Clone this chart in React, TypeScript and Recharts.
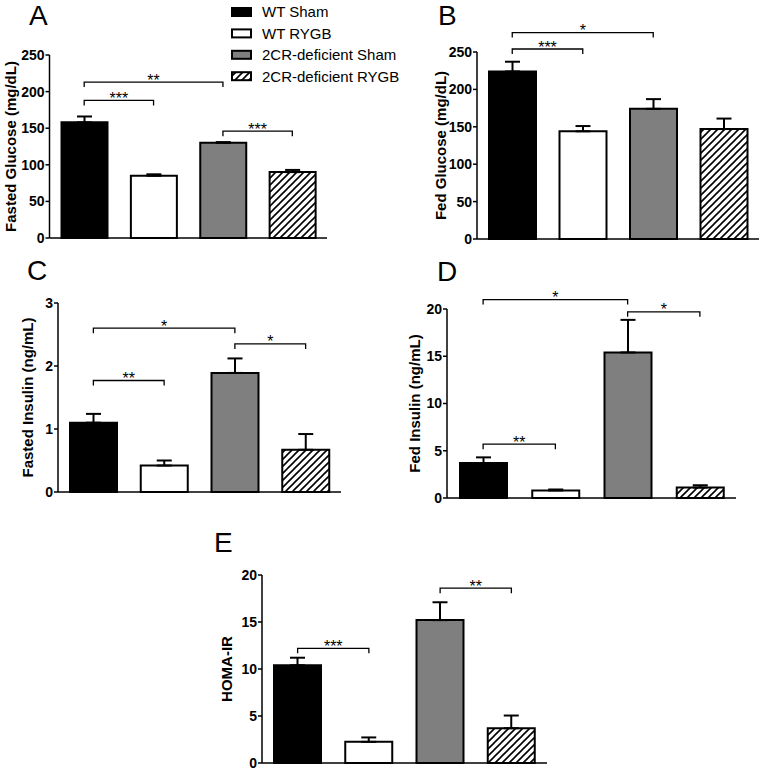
import React from 'react';
import { BarChart, Bar, XAxis, YAxis, ErrorBar, Cell, ReferenceLine } from 'recharts';

const FONT = '"Liberation Sans", Arial, Helvetica, sans-serif';

const groups = ['WT Sham', 'WT RYGB', '2CR-deficient Sham', '2CR-deficient RYGB'];
const groupFills = ['#000000', '#ffffff', '#7f7f7f', 'url(#hatch)'];

const fastedGlucose = [158, 85, 130, 90];
const fastedGlucoseSem = [8, 2, 1, 3];
const fedGlucose = [224, 144, 174, 147];
const fedGlucoseSem = [13, 7, 13, 14];
const fastedInsulin = [1.1, 0.42, 1.89, 0.67];
const fastedInsulinSem = [0.14, 0.08, 0.23, 0.25];
const fedInsulin = [3.7, 0.8, 15.4, 1.1];
const fedInsulinSem = [0.6, 0.1, 3.45, 0.25];
const homaIr = [10.4, 2.25, 15.2, 3.7];
const homaIrSem = [0.8, 0.47, 1.9, 1.35];

const glucoseTicks = [0, 50, 100, 150, 200, 250];
const fastedInsulinTicks = [0, 1, 2, 3];
const fedInsulinTicks = [0, 5, 10, 15, 20];
const homaTicks = [0, 5, 10, 15, 20];

// significance brackets: [from group, to group, height, stars]
type Sig = [number, number, number, string];
const fastedGlucoseSig: Sig[] = [[0, 2, 213, '**'], [0, 1, 188, '***'], [2, 3, 146, '***']];
const fedGlucoseSig: Sig[] = [[0, 1, 254, '***'], [0, 2, 276, '*']];
const fastedInsulinSig: Sig[] = [[0, 2, 2.6, '*'], [0, 1, 1.77, '**'], [2, 3, 2.35, '*']];
const fedInsulinSig: Sig[] = [[0, 2, 21, '*'], [2, 3, 19.7, '*'], [0, 1, 5.7, '**']];
const homaSig: Sig[] = [[0, 1, 12.2, '***'], [2, 3, 18.6, '**']];

const makeRows = (values: number[], sem: number[]) =>
  groups.map((name, i) => ({ name, value: values[i], err: [0, sem[i]] }));

const bracketShape = (text: string) => (p: any) => {
  const { x1, x2, y1 } = p;
  return (
    <g>
      <path d={`M${x1},${y1 + 5}V${y1}H${x2}V${y1 + 5}`} fill="none" stroke="#000" strokeWidth={1.3} />
      <text x={(x1 + x2) / 2} y={y1 + 3.5} textAnchor="middle" fontSize={16} fontFamily={FONT} fill="#000">
        {text}
      </text>
    </g>
  );
};

interface PanelProps {
  box: { left: number; top: number; width: number; height: number };
  plot: { left: number; right: number; top: number; bottom: number };
  labelX: number;
  label: string;
  values: number[];
  sem: number[];
  ticks: number[];
  sig: Sig[];
  barSize: number;
}

const X_AXIS_H = 8;

const Panel: React.FC<PanelProps> = ({ box, plot, labelX, label, values, sem, ticks, sig, barSize }) => {
  const data = makeRows(values, sem);
  const margin = {
    top: plot.top - box.top,
    left: 0,
    right: box.left + box.width - plot.right,
    bottom: box.top + box.height - plot.bottom - X_AXIS_H,
  };
  const axisStyle = { stroke: '#000', strokeWidth: 1.5 };
  return (
    <div style={{ position: 'absolute', left: box.left, top: box.top }}>
      <BarChart width={box.width} height={box.height} data={data} margin={margin}>
        <XAxis
          dataKey="name"
          height={X_AXIS_H}
          tick={false}
          tickSize={5}
          axisLine={axisStyle}
          tickLine={axisStyle}
        />
        <YAxis
          width={plot.left - box.left}
          domain={[0, ticks[ticks.length - 1]]}
          ticks={ticks}
          interval={0}
          tickSize={4}
          tickMargin={1}
          axisLine={axisStyle}
          tickLine={axisStyle}
          tick={{ fill: '#000', fontSize: 14, fontWeight: 'bold', fontFamily: FONT }}
          label={{
            value: label,
            angle: -90,
            position: 'insideLeft',
            offset: labelX - box.left,
            style: { textAnchor: 'middle', fontSize: 15, fontWeight: 'bold', fontFamily: FONT, fill: '#000' },
          }}
        />
        <Bar dataKey="value" barSize={barSize} stroke="#000" strokeWidth={2} isAnimationActive={false}>
          {data.map((d, i) => (
            <Cell key={d.name} fill={groupFills[i]} />
          ))}
          <ErrorBar dataKey="err" direction="y" width={7.5} stroke="#000" strokeWidth={2} isAnimationActive={false} />
        </Bar>
        {sig.map(([from, to, y, text]) => (
          <ReferenceLine
            key={`${from}-${to}`}
            segment={[{ x: groups[from], y }, { x: groups[to], y }]}
            ifOverflow="visible"
            shape={bracketShape(text)}
          />
        ))}
      </BarChart>
    </div>
  );
};

const letters = [
  { t: 'A', x: 29, y: 25 },
  { t: 'B', x: 438, y: 25 },
  { t: 'C', x: 27, y: 280 },
  { t: 'D', x: 437, y: 281 },
  { t: 'E', x: 214, y: 552 },
];

export default function App() {
  return (
    <div style={{ position: 'absolute', left: 0, top: 0, width: 762, height: 772, background: '#fff', fontFamily: FONT }}>
      <svg width={0} height={0} style={{ position: 'absolute' }}>
        <defs>
          <pattern id="hatch" patternUnits="userSpaceOnUse" width={7} height={7}>
            <rect width={7} height={7} fill="#fff" />
            <path d="M-1,1 l2,-2 M0,7 l7,-7 M6,8 l2,-2" stroke="#000" strokeWidth={1.6} />
          </pattern>
        </defs>
      </svg>

      <Panel
        box={{ left: 0, top: 0, width: 340, height: 252 }}
        plot={{ left: 49.5, right: 327, top: 55, bottom: 238 }}
        labelX={11}
        label="Fasted Glucose (mg/dL)"
        values={fastedGlucose}
        sem={fastedGlucoseSem}
        ticks={glucoseTicks}
        sig={fastedGlucoseSig}
        barSize={46}
      />
      <Panel
        box={{ left: 420, top: 0, width: 342, height: 252 }}
        plot={{ left: 477, right: 759, top: 52, bottom: 239 }}
        labelX={441}
        label="Fed Glucose (mg/dL)"
        values={fedGlucose}
        sem={fedGlucoseSem}
        ticks={glucoseTicks}
        sig={fedGlucoseSig}
        barSize={47}
      />
      <Panel
        box={{ left: 0, top: 252, width: 360, height: 252 }}
        plot={{ left: 58, right: 341, top: 303, bottom: 492 }}
        labelX={28}
        label="Fasted Insulin (ng/mL)"
        values={fastedInsulin}
        sem={fastedInsulinSem}
        ticks={fastedInsulinTicks}
        sig={fastedInsulinSig}
        barSize={47}
      />
      <Panel
        box={{ left: 380, top: 252, width: 382, height: 260 }}
        plot={{ left: 447, right: 736, top: 309, bottom: 498 }}
        labelX={415}
        label="Fed Insulin (ng/mL)"
        values={fedInsulin}
        sem={fedInsulinSem}
        ticks={fedInsulinTicks}
        sig={fedInsulinSig}
        barSize={47}
      />
      <Panel
        box={{ left: 200, top: 512, width: 360, height: 260 }}
        plot={{ left: 262, right: 547, top: 575, bottom: 763 }}
        labelX={227}
        label="HOMA-IR"
        values={homaIr}
        sem={homaIrSem}
        ticks={homaTicks}
        sig={homaSig}
        barSize={47}
      />

      <svg width={762} height={772} style={{ position: 'absolute', left: 0, top: 0, pointerEvents: 'none' }}>
        {letters.map((l) => (
          <text key={l.t} x={l.x} y={l.y} fontSize={28} fontFamily={FONT} fill="#000">
            {l.t}
          </text>
        ))}
        {groups.map((g, i) => {
          const cy = 12 + i * 21.4;
          return (
            <g key={g}>
              <rect x={232} y={cy - 4} width={19} height={8} fill={groupFills[i]} stroke="#000" strokeWidth={2} />
              <text x={262} y={cy + 5.3} fontSize={15} fontFamily={FONT} fill="#000">
                {g}
              </text>
            </g>
          );
        })}
      </svg>
    </div>
  );
}
